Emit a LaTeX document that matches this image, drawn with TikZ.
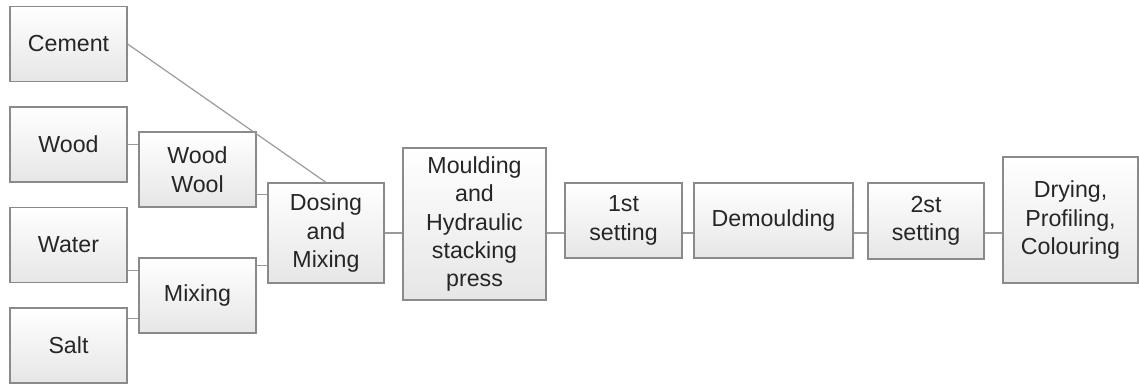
\documentclass[tikz,border=0pt]{standalone}
\usepackage{fontspec}
\setmainfont{Liberation Sans}
\usepackage{xcolor}
\definecolor{borda}{HTML}{8A8A8A}
\definecolor{linha}{HTML}{9A9A9A}
\definecolor{fundo}{HTML}{E6E6E6}
\definecolor{texto}{HTML}{262626}

\begin{document}
\begin{tikzpicture}[x=0.5pt,y=-0.5pt,
  etapa/.style={draw=borda, line width=0.6pt, top color=white, bottom color=fundo,
    text=texto, align=center, inner sep=0pt, minimum width=58.5pt, minimum height=37.5pt,
    font=\fontsize{11.6}{14.2}\selectfont},
  liga/.style={draw=linha, line width=0.6pt}]

\useasboundingbox (0,0) rectangle (1139,387);

% materias-primas
\node[etapa] (cimento) at (68.5,44) {Cement};
\node[etapa] (madeira) at (68.5,144.5) {Wood};
\node[etapa] (agua) at (68.5,245) {Water};
\node[etapa] (sal) at (68.5,345.5) {Salt};

% preparacao
\node[etapa] (la) at (197.5,169.5) {Wood\\Wool};
\node[etapa] (mistura) at (197.5,295.5) {Mixing};
\node[etapa, minimum width=58pt, minimum height=50pt] (dosagem) at (326,233) {Dosing\\and\\Mixing};

% linha de producao
\node[etapa, minimum width=71.5pt, minimum height=76pt] (prensa) at (474.5,224)
  {Moulding\\and\\Hydraulic\\stacking\\press};
\node[etapa] (pega1) at (623.5,220.5) {1st\\setting};
\node[etapa, minimum width=79.5pt] (desmolde) at (773.5,220.5) {Demoulding};
\node[etapa, minimum width=58pt, minimum height=38pt] (pega2) at (926,221) {2st\\setting};
\node[etapa, minimum width=67.5pt, minimum height=63pt] (secagem) at (1070.5,220)
  {Drying,\\Profiling,\\Colouring};

% ligacoes
\draw[liga] (cimento.east) -- (dosagem.north);
\draw[liga] (madeira.east) -- (madeira.east -| la.west);
\coordinate (c1) at ([yshift=6.5pt]la.south east);
\draw[liga] (c1) -- (c1 -| dosagem.west);
\coordinate (c2) at ([yshift=6.5pt]agua.south east);
\draw[liga] (c2) -- (c2 -| mistura.west);
\coordinate (c3) at ([yshift=-5.5pt]sal.north east);
\draw[liga] (c3) -- (c3 -| mistura.west);
\coordinate (c4) at ([yshift=-4pt]mistura.north east);
\draw[liga] (c4) -- (c4 -| dosagem.west);

\foreach \a/\b in {dosagem/prensa, prensa/pega1, pega1/desmolde, desmolde/pega2, pega2/secagem}
  \draw[liga] (\a.east |- dosagem.east) -- (\b.west |- dosagem.east);

\end{tikzpicture}
\end{document}
